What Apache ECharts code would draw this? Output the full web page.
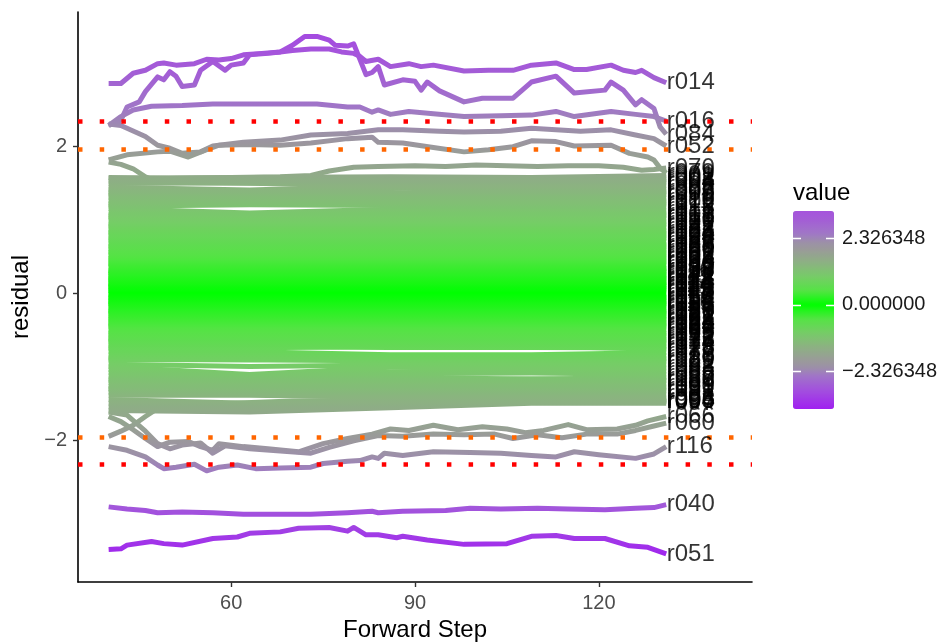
<!DOCTYPE html>
<html><head><meta charset="utf-8">
<script src="https://cdn.jsdelivr.net/npm/echarts@6/dist/echarts.min.js"></script>
<style>html,body{margin:0;padding:0;background:#fff}#c{width:944px;height:643px}</style>
</head><body><div id="c"></div>
<script>
const FONT = "'Liberation Sans', Arial, Helvetica, sans-serif";
const xTicks = [60, 90, 120];
const yTicks = [-2, 0, 2];
const legendTicks = [-2.326348, 0, 2.326348];
const cutRed = 2.326348, cutOrange = 1.959964;

// inner (green) trajectories sampled at these forward steps
const innerSteps = [40, 63, 86, 109, 131];
const innerNames = ['r001','r002','r003','r004','r005','r007','r008','r009','r010','r011','r012','r013','r015','r017','r018','r019','r020','r021','r022','r023','r024','r025','r026','r027','r028','r029','r030','r031','r032','r033','r034','r035','r036','r037','r038','r039','r041','r042','r043','r044','r045','r046','r047','r048','r049','r050','r053','r054','r055','r056','r057','r058','r059','r061','r062','r063','r064','r065','r067','r068','r069','r071','r072','r073','r074','r075','r076','r077','r078','r080','r081','r082','r083','r085','r086','r087','r088','r089','r090','r091','r092','r093','r094','r095','r096','r097',
'r099','r100','r101','r102','r103','r104','r105','r106','r107','r108','r109','r110','r111','r112','r113','r114','r115','r117','r118','r119','r120','r121','r122','r123','r124','r125','r126','r127','r128','r129','r130','r131'];
const innerValues = [
[1.56,1.57,1.58,1.57,1.60],[1.52,1.53,1.56,1.55,1.57],[1.49,1.50,1.52,1.54,1.52],[1.44,1.40,1.46,1.49,1.50],
[1.41,1.37,1.42,1.44,1.46],[1.37,1.38,1.36,1.40,1.41],[1.33,1.35,1.29,1.34,1.38],[1.30,1.29,1.26,1.31,1.34],
[1.26,1.27,1.24,1.27,1.29],[1.22,1.23,1.22,1.22,1.25],[1.18,1.20,1.19,1.19,1.21],[1.15,1.09,1.14,1.16,1.17],
[1.10,1.06,1.11,1.12,1.12],[1.06,1.07,1.07,1.08,1.09],[1.02,1.03,1.04,1.03,1.05],[0.99,0.98,0.99,1.00,1.01],
[0.94,0.95,0.95,0.96,0.97],[0.90,0.91,0.92,0.91,0.93],[0.86,0.88,0.87,0.88,0.89],[0.83,0.84,0.84,0.84,0.85],
[0.79,0.80,0.80,0.81,0.81],[0.75,0.77,0.76,0.77,0.78],[0.71,0.72,0.73,0.73,0.74],[0.67,0.68,0.69,0.69,0.70],
[0.63,0.65,0.65,0.66,0.66],[0.60,0.61,0.62,0.62,0.63],[0.56,0.57,0.58,0.58,0.59],[0.52,0.54,0.54,0.55,0.55],
[0.48,0.50,0.51,0.51,0.52],[0.45,0.46,0.47,0.48,0.48],[0.41,0.43,0.43,0.44,0.45],[0.38,0.39,0.40,0.41,0.41],
[0.35,0.36,0.37,0.37,0.38],[0.31,0.33,0.33,0.34,0.34],[0.28,0.29,0.30,0.31,0.31],[0.25,0.26,0.27,0.27,0.28],
[0.22,0.23,0.23,0.24,0.25],[0.19,0.20,0.20,0.21,0.21],[0.16,0.17,0.17,0.18,0.18],[0.13,0.14,0.14,0.15,0.15],
[0.10,0.11,0.11,0.12,0.12],[0.07,0.08,0.08,0.09,0.09],[0.04,0.05,0.05,0.06,0.06],[0.01,0.02,0.02,0.03,0.03],
[-0.02,-0.01,-0.01,0.00,-0.01],[-0.05,-0.04,-0.04,-0.03,-0.04],[-0.08,-0.07,-0.07,-0.06,-0.07],[-0.11,-0.10,-0.10,-0.10,-0.10],
[-0.14,-0.13,-0.13,-0.13,-0.14],[-0.17,-0.16,-0.17,-0.16,-0.17],[-0.20,-0.20,-0.20,-0.19,-0.20],[-0.23,-0.23,-0.23,-0.22,-0.23],
[-0.26,-0.26,-0.26,-0.25,-0.27],[-0.30,-0.29,-0.29,-0.29,-0.30],[-0.33,-0.32,-0.33,-0.32,-0.33],[-0.36,-0.36,-0.36,-0.35,-0.36],
[-0.39,-0.39,-0.39,-0.38,-0.40],[-0.43,-0.42,-0.43,-0.42,-0.43],[-0.46,-0.46,-0.46,-0.45,-0.47],[-0.50,-0.49,-0.50,-0.49,-0.50],
[-0.53,-0.53,-0.53,-0.53,-0.54],[-0.57,-0.56,-0.57,-0.56,-0.58],[-0.61,-0.60,-0.61,-0.60,-0.61],[-0.64,-0.64,-0.65,-0.64,-0.65],
[-0.68,-0.68,-0.68,-0.68,-0.69],[-0.72,-0.72,-0.71,-0.70,-0.73],[-0.76,-0.75,-0.72,-0.72,-0.77],[-0.80,-0.80,-0.84,-0.84,-0.81],
[-0.84,-0.85,-0.87,-0.86,-0.85],[-0.88,-0.86,-0.89,-0.88,-0.89],[-0.91,-0.90,-0.93,-0.92,-0.93],[-0.97,-1.00,-0.98,-0.96,-0.98],
[-1.00,-1.11,-1.01,-1.01,-1.02],[-1.04,-1.12,-1.07,-1.05,-1.06],[-1.08,-1.14,-1.10,-1.09,-1.11],[-1.13,-1.16,-1.15,-1.17,-1.15],
[-1.19,-1.18,-1.20,-1.20,-1.19],[-1.22,-1.24,-1.24,-1.23,-1.24],[-1.27,-1.28,-1.29,-1.27,-1.28],[-1.31,-1.33,-1.34,-1.32,-1.33],
[-1.35,-1.36,-1.37,-1.36,-1.38],[-1.39,-1.39,-1.42,-1.41,-1.43],[-1.45,-1.50,-1.49,-1.45,-1.47],[-1.50,-1.53,-1.52,-1.48,-1.48],
[-1.55,-1.57,-1.50,-1.47,-1.45],[-1.60,-1.62,-1.56,-1.50,-1.50],
[1.36,1.34,1.35,1.37,1.36],[1.20,1.22,1.21,1.20,1.23],[1.04,1.05,1.02,1.05,1.06],[0.92,0.93,0.94,0.93,0.95],
[0.82,0.82,0.83,0.82,0.83],[0.73,0.74,0.74,0.75,0.76],[0.64,0.63,0.64,0.65,0.64],[0.55,0.56,0.56,0.57,0.57],
[0.47,0.48,0.49,0.49,0.50],[0.40,0.41,0.41,0.42,0.43],[0.30,0.31,0.32,0.32,0.33],[0.27,0.27,0.28,0.29,0.29],
[0.20,0.21,0.22,0.22,0.23],[0.18,0.18,0.19,0.19,0.20],[0.12,0.13,0.13,0.13,0.14],[0.09,0.10,0.10,0.10,0.11],
[0.03,0.04,0.04,0.04,0.05],[-0.06,-0.05,-0.05,-0.05,-0.06],[-0.12,-0.12,-0.11,-0.11,-0.12],[-0.15,-0.15,-0.15,-0.14,-0.15],
[-0.24,-0.24,-0.24,-0.23,-0.25],[-0.28,-0.27,-0.28,-0.27,-0.28],[-0.35,-0.34,-0.34,-0.34,-0.35],[-0.41,-0.40,-0.41,-0.40,-0.41],
[-0.45,-0.44,-0.44,-0.44,-0.45],[-0.55,-0.54,-0.55,-0.54,-0.55],[-0.62,-0.62,-0.63,-0.62,-0.63],[-0.66,-0.66,-0.66,-0.66,-0.67],
[-0.74,-0.73,-0.74,-0.74,-0.75],[-0.90,-0.91,-0.91,-0.90,-0.91],[-1.17,-1.20,-1.19,-1.17,-1.18],[-1.30,-1.30,-1.31,-1.30,-1.31]
];

// outlying trajectories: [step, residual]
const r014 = [[40,2.85],[42,2.85],[44,2.99],[46,3.03],[48,3.12],[49,3.13],[51,3.10],[54,3.12],[56,3.18],[58,3.17],[60,3.19],[62,3.24],[65,3.26],[68,3.28],[70,3.30],[73,3.32],[76,3.32],[78,3.28],[80,3.26],[81,3.22],[82,3.15],[84,3.18],[86,3.08],[89,3.12],[91,3.08],[93,3.10],[98,3.02],[102,3.03],[106,3.03],[109,3.10],[113,3.13],[116,3.04],[118,3.04],[122,3.10],[124,3.03],[126,3.00],[127,3.03],[129,2.93],[131,2.86]];
const r084 = [[40,2.28],[42,2.35],[43,2.53],[45,2.60],[46,2.74],[48,2.94],[49,2.90],[50,3.01],[51,2.95],[52,2.81],[54,2.83],[55,3.03],[57,3.15],[59,3.03],[60,3.10],[62,3.13],[63,3.24],[66,3.26],[68,3.28],[70,3.37],[72,3.49],[74,3.49],[76,3.44],[77,3.37],[79,3.36],[80,3.39],[82,2.97],[83,3.00],[84,3.08],[85,2.83],[88,2.90],[90,2.88],[91,2.76],[92,2.87],[94,2.75],[98,2.60],[101,2.65],[106,2.65],[109,2.87],[113,2.95],[116,2.72],[121,2.76],[122,2.87],[124,2.76],[126,2.56],[127,2.63],[129,2.51],[130,2.26],[131,2.16]];
const r016 = [[40,2.28],[42,2.40],[44,2.49],[47,2.54],[52,2.55],[57,2.57],[62,2.57],[68,2.57],[74,2.57],[79,2.53],[81,2.53],[83,2.46],[84,2.49],[86,2.43],[89,2.47],[93,2.44],[98,2.40],[104,2.41],[109,2.42],[113,2.47],[116,2.40],[122,2.47],[126,2.43],[129,2.40],[131,2.34]];
const r052 = [[40,2.30],[42,2.28],[46,2.13],[48,2.01],[50,1.97],[52,1.90],[55,1.92],[57,2.00],[60,2.03],[62,2.05],[68,2.08],[73,2.15],[79,2.17],[84,2.22],[88,2.22],[94,2.20],[98,2.19],[104,2.20],[109,2.24],[113,2.22],[117,2.20],[122,2.22],[126,2.15],[129,2.10],[131,2.00]];
const r079 = [[40,1.81],[43,1.88],[48,1.92],[50,1.93],[53,1.85],[56,1.95],[58,2.01],[63,2.02],[68,2.01],[73,2.04],[79,2.10],[83,2.12],[84,2.05],[88,2.04],[93,1.98],[98,1.92],[102,1.95],[106,1.99],[109,2.07],[113,2.06],[116,2.00],[122,2.01],[125,1.90],[128,1.85],[129,1.81],[130,1.70],[131,1.63]];
const r070 = [[40,1.57],[50,1.56],[60,1.57],[68,1.58],[73,1.60],[76,1.66],[80,1.71],[84,1.72],[90,1.73],[95,1.72],[100,1.74],[105,1.73],[110,1.72],[115,1.73],[120,1.73],[124,1.71],[127,1.67],[129,1.68],[131,1.70]];
const r098 = [[40,1.78],[42,1.75],[44,1.69],[46,1.58],[48,1.51],[55,1.50],[65,1.49],[80,1.47],[95,1.49],[110,1.50],[125,1.52],[131,1.54]];
const r066 = [[40,-1.68],[42,-1.75],[44,-1.86],[46,-1.98],[48,-2.09],[50,-2.03],[53,-2.02],[55,-2.09],[57,-2.14],[58,-2.05],[62,-2.09],[66,-2.12],[71,-2.16],[75,-2.05],[79,-1.98],[83,-1.92],[86,-1.85],[89,-1.87],[93,-1.80],[97,-1.86],[101,-1.82],[105,-1.85],[108,-1.90],[111,-1.87],[115,-1.79],[118,-1.86],[123,-1.85],[126,-1.80],[128,-1.74],[131,-1.68]];
const r060 = [[40,-1.62],[43,-1.66],[46,-1.88],[48,-2.05],[50,-2.12],[52,-2.07],[55,-2.04],[57,-2.18],[59,-2.08],[63,-2.12],[68,-2.15],[73,-2.18],[76,-2.10],[80,-2.01],[84,-1.94],[88,-1.95],[93,-1.92],[98,-1.93],[103,-1.92],[106,-1.98],[110,-1.93],[114,-1.97],[118,-1.92],[123,-1.92],[126,-1.87],[129,-1.81],[131,-1.77]];
const r006 = [[40,-1.95],[42,-1.88],[44,-1.80],[46,-1.68],[48,-1.57],[52,-1.52],[60,-1.50],[70,-1.47],[80,-1.46],[95,-1.47],[110,-1.46],[125,-1.48],[131,-1.47]];
const r116 = [[40,-2.09],[43,-2.14],[46,-2.23],[48,-2.34],[49,-2.39],[51,-2.37],[54,-2.33],[56,-2.42],[58,-2.37],[61,-2.34],[64,-2.39],[68,-2.38],[73,-2.37],[75,-2.32],[79,-2.29],[81,-2.28],[83,-2.23],[84,-2.25],[85,-2.18],[88,-2.21],[93,-2.16],[99,-2.17],[104,-2.18],[109,-2.21],[113,-2.23],[116,-2.16],[120,-2.20],[126,-2.25],[129,-2.19],[131,-2.09]];
const r040 = [[40,-2.91],[43,-2.94],[46,-2.96],[48,-2.99],[52,-2.98],[57,-2.99],[62,-3.01],[68,-3.01],[73,-3.01],[79,-2.99],[83,-2.97],[84,-2.99],[88,-2.97],[95,-2.96],[99,-2.93],[104,-2.94],[110,-2.93],[115,-2.94],[121,-2.95],[126,-2.93],[129,-2.92],[131,-2.88]];
const r051 = [[40,-3.49],[42,-3.48],[43,-3.43],[47,-3.38],[49,-3.41],[52,-3.43],[57,-3.34],[61,-3.32],[63,-3.27],[68,-3.25],[71,-3.20],[76,-3.19],[79,-3.24],[80,-3.19],[82,-3.29],[84,-3.29],[87,-3.33],[88,-3.31],[92,-3.36],[98,-3.42],[105,-3.41],[109,-3.31],[113,-3.30],[116,-3.34],[121,-3.34],[125,-3.44],[128,-3.46],[131,-3.55]];
const outerNames = ['r098','r006','r070','r079','r052','r066','r060','r116','r016','r084','r014','r040','r051'];
const outerData = [r098, r006, r070, r079, r052, r066, r060, r116, r016, r084, r014, r040, r051];

// colour scale anchors (value -> colour)
const colorAnchors = [[-4,'#9E14F6'],[-3.66,'#A020F0'],[-3,'#A250DE'],[-2.5,'#A074C8'],[-2.2,'#9C90A8'],[-1.96,'#9A9A9A'],[-1.5,'#8DB083'],[-1,'#77CB68'],[-0.5,'#55E345'],[0,'#00FF00'],[0.5,'#55E345'],[1,'#77CB68'],[1.5,'#8DB083'],[1.96,'#9A9A9A'],[2.2,'#9C90A8'],[2.5,'#A077C6'],[3,'#A35DD6'],[3.3,'#A553DC'],[4,'#A038EA']];

function hex2rgb(h){return [parseInt(h.slice(1,3),16),parseInt(h.slice(3,5),16),parseInt(h.slice(5,7),16)];}
function colorAt(v){
  for(let i=0;i<colorAnchors.length-1;i++){
    const [a,ca]=colorAnchors[i],[b,cb]=colorAnchors[i+1];
    if(v>=a && v<=b){
      const t=(v-a)/(b-a), p=hex2rgb(ca), q=hex2rgb(cb);
      return 'rgb('+p.map((x,k)=>Math.round(x+(q[k]-x)*t)).join(',')+')';
    }
  }
  return v<colorAnchors[0][0]?colorAnchors[0][1]:colorAnchors[colorAnchors.length-1][1];
}
function ramp(min,max,n){const out=[];for(let i=0;i<n;i++)out.push(colorAt(min+(max-min)*i/(n-1)));return out;}

const allNames = innerNames.concat(outerNames);
const allData = innerValues.map(row=>innerSteps.map((s,i)=>[s,row[i]])).concat(outerData);

const series = allData.map((d,i)=>({
  type:'line', name:allNames[i], data:d, xAxisIndex:0, yAxisIndex:0,
  showSymbol:false, symbol:'none', silent:true, animation:false, z:2,
  lineStyle:{width:5, cap:'butt', join:'round'}, emphasis:{disabled:true}
}));
const lineIdx = series.map((s,i)=>i);

series.push({
  type:'line', data:[], xAxisIndex:0, yAxisIndex:0, z:4, silent:true, animation:false,
  markLine:{silent:true, symbol:'none', animation:false, label:{show:false},
    lineStyle:{type:[4.5,17.2], width:4.5, cap:'butt'},
    data:[
      {yAxis:cutRed, lineStyle:{color:'#FF0000'}},
      {yAxis:-cutRed, lineStyle:{color:'#FF0000'}},
      {yAxis:cutOrange, lineStyle:{color:'#FF6600'}},
      {yAxis:-cutOrange, lineStyle:{color:'#FF6600'}}
    ]}
});
series.push({
  type:'scatter', xAxisIndex:0, yAxisIndex:0, z:6, silent:true, animation:false,
  symbolSize:1, itemStyle:{color:'rgba(0,0,0,0)'},
  data: allData.map((d,i)=>({value:d[d.length-1], name:allNames[i]})),
  label:{show:true, position:'right', distance:0, formatter:p=>p.name, fontSize:24, color:'#000', fontFamily:FONT}
});
const dummyIdx = series.length;
series.push({type:'line', data:[], xAxisIndex:1, yAxisIndex:1, silent:true});

const minus = v => (v<0?'\u2212':'')+Math.abs(v);

const option = {
  animation:false,
  textStyle:{fontFamily:FONT},
  grid:[
    {left:78, top:12, right:192, bottom:61, containLabel:false, outerBoundsMode:'none'},
    {left:793, top:211, width:41, height:198, containLabel:false, outerBoundsMode:'none'}
  ],
  xAxis:[
    {type:'value', gridIndex:0, min:35, max:145,
     axisLine:{onZero:false, lineStyle:{color:'#000', width:1.6}},
     axisTick:{customValues:xTicks, length:5, lineStyle:{color:'#333', width:1.4}},
     axisLabel:{customValues:xTicks, color:'#4D4D4D', fontSize:20, margin:11, fontFamily:FONT},
     splitLine:{show:false},
     name:'Forward Step', nameLocation:'middle', nameGap:36,
     nameTextStyle:{fontSize:24, color:'#000', fontFamily:FONT}},
    {type:'value', gridIndex:1, show:false, min:0, max:1}
  ],
  yAxis:[
    {type:'value', gridIndex:0, min:-3.932, max:3.823,
     axisLine:{onZero:false, lineStyle:{color:'#000', width:1.6}},
     axisTick:{customValues:yTicks, length:5, lineStyle:{color:'#333', width:1.4}},
     axisLabel:{customValues:yTicks, color:'#4D4D4D', fontSize:20, margin:11, formatter:minus, fontFamily:FONT},
     splitLine:{show:false},
     name:'residual', nameLocation:'middle', nameRotate:90, nameGap:44,
     nameTextStyle:{fontSize:24, color:'#000', fontFamily:FONT}},
    {type:'value', gridIndex:1, min:-3.66, max:3.30, position:'right', z:10,
     axisLine:{show:false}, axisTick:{show:false},
     axisLabel:{customValues:legendTicks, color:'#1A1A1A', fontSize:20, margin:8, fontFamily:FONT,
       formatter:v=>(v<0?'\u2212':'')+Math.abs(v).toFixed(6)},
     splitLine:{show:false}},
    {type:'value', gridIndex:1, min:-3.66, max:3.30, position:'left', z:10,
     axisLine:{show:false},
     axisTick:{customValues:legendTicks, inside:true, length:41, lineStyle:{color:'#fff', width:1.3, type:[8,25]}},
     axisLabel:{show:false}, splitLine:{show:false}}
  ],
  visualMap:[
    {type:'continuous', show:false, dimension:1, seriesIndex:lineIdx, min:-4, max:4,
     inRange:{color:ramp(-4,4,161)}},
    {type:'continuous', show:true, dimension:1, seriesIndex:[dummyIdx], min:-3.66, max:3.30,
     inRange:{color:ramp(-3.66,3.30,141)}, left:793, top:211, itemWidth:41, itemHeight:198,
     padding:0, calculable:false, hoverLink:false, text:null, z:4}
  ],
  graphic:[
    {type:'text', left:793, top:181, z:10, style:{text:'value', fontSize:24, fill:'#000', fontFamily:FONT}}
  ],
  series: series
};
const chart = echarts.init(document.getElementById('c'), null, {renderer:'canvas'});
chart.setOption(option);
</script></body></html>
